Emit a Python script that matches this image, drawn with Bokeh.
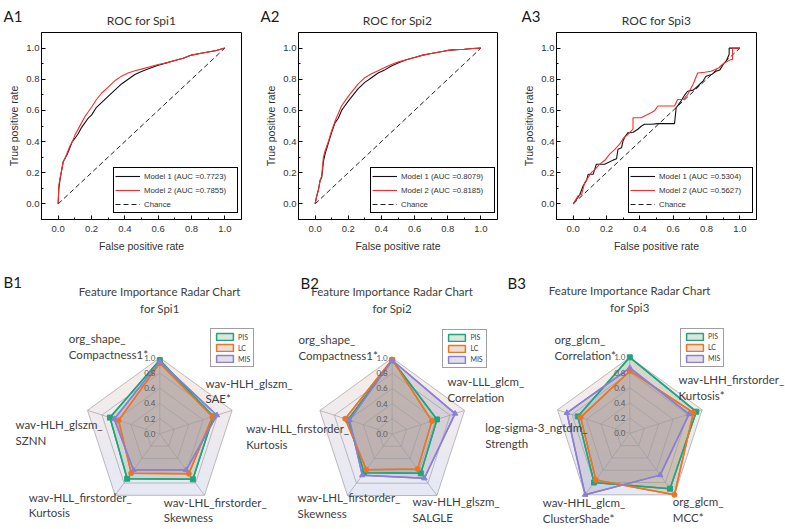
import math
from bokeh.plotting import figure
from bokeh.models import Range1d, FixedTicker, Label, Legend, LegendItem, NumeralTickFormatter
from bokeh.layouts import row, column
from bokeh.embed import file_html
from bokeh.resources import INLINE
from bokeh.core.properties import value

# ---------------- ROC data ----------------
roc_titles = ["ROC for Spi1", "ROC for Spi2", "ROC for Spi3"]
roc_letters = ["A1", "A2", "A3"]
m1_auc = ["0.7723", "0.8079", "0.5304"]
m2_auc = ["0.7855", "0.8185", "0.5627"]
chance = [0.0, 1.0]
roc_ticks = [0.0, 0.2, 0.4, 0.6, 0.8, 1.0]
roc_minor = [0.1, 0.3, 0.5, 0.7, 0.9]

spi1_fpr = [0, 0.004, 0.012, 0.02, 0.03, 0.04, 0.055, 0.07, 0.085, 0.1, 0.12, 0.14, 0.16, 0.18, 0.2,
            0.23, 0.26, 0.3, 0.34, 0.38, 0.42, 0.46, 0.5, 0.55, 0.6, 0.65, 0.7, 0.75, 0.8, 0.85, 0.9, 0.95, 1.0]
spi1_m1 = [0, 0.10, 0.16, 0.21, 0.27, 0.29, 0.32, 0.36, 0.40, 0.42, 0.45, 0.49, 0.52, 0.55, 0.57,
           0.62, 0.65, 0.69, 0.73, 0.77, 0.80, 0.83, 0.85, 0.87, 0.89, 0.905, 0.92, 0.935, 0.955, 0.965, 0.975, 0.985, 1.0]
spi1_m2 = [0, 0.12, 0.17, 0.21, 0.27, 0.29, 0.33, 0.37, 0.40, 0.44, 0.48, 0.52, 0.56, 0.59, 0.62,
           0.67, 0.71, 0.75, 0.79, 0.82, 0.84, 0.855, 0.865, 0.88, 0.895, 0.905, 0.92, 0.935, 0.955, 0.965, 0.975, 0.985, 1.0]

spi2_fpr = [0, 0.01, 0.02, 0.03, 0.04, 0.05, 0.06, 0.08, 0.1, 0.12, 0.14, 0.16, 0.18, 0.2, 0.23, 0.26,
            0.3, 0.34, 0.38, 0.42, 0.46, 0.5, 0.55, 0.6, 0.65, 0.7, 0.75, 0.8, 0.85, 0.9, 0.95, 1.0]
spi2_m1 = [0, 0.05, 0.09, 0.15, 0.17, 0.27, 0.32, 0.39, 0.46, 0.52, 0.55, 0.60, 0.63, 0.66, 0.70, 0.74,
           0.78, 0.81, 0.84, 0.86, 0.885, 0.905, 0.925, 0.94, 0.955, 0.965, 0.975, 0.985, 0.99, 0.993, 0.997, 1.0]
spi2_m2 = [0, 0.05, 0.09, 0.15, 0.18, 0.30, 0.34, 0.40, 0.47, 0.53, 0.58, 0.63, 0.66, 0.69, 0.73, 0.77,
           0.81, 0.835, 0.855, 0.875, 0.895, 0.91, 0.925, 0.94, 0.955, 0.965, 0.975, 0.985, 0.99, 0.993, 0.997, 1.0]

spi3_m1_fpr = [0, 0.03, 0.04, 0.06, 0.08, 0.09, 0.12, 0.139, 0.189, 0.22, 0.239, 0.26, 0.269, 0.29, 0.299,
               0.31, 0.329, 0.36, 0.388, 0.41, 0.428, 0.47, 0.508, 0.608, 0.618, 0.647, 0.67, 0.687, 0.72,
               0.747, 0.78, 0.797, 0.83, 0.857, 0.88, 0.906, 0.92, 0.936, 0.936, 1.0]
spi3_m1 = [0, 0.043, 0.06, 0.117, 0.15, 0.19, 0.19, 0.255, 0.255, 0.27, 0.281, 0.29, 0.351, 0.36, 0.404,
           0.43, 0.457, 0.46, 0.479, 0.50, 0.511, 0.511, 0.515, 0.515, 0.617, 0.66, 0.70, 0.723, 0.73,
           0.755, 0.79, 0.819, 0.83, 0.851, 0.86, 0.904, 0.92, 0.96, 1.0, 1.0]
spi3_m2_fpr = [0, 0.03, 0.05, 0.07, 0.09, 0.11, 0.13, 0.159, 0.19, 0.219, 0.25, 0.279, 0.30, 0.329, 0.359,
               0.359, 0.408, 0.44, 0.468, 0.49, 0.508, 0.608, 0.627, 0.66, 0.687, 0.72, 0.747, 0.79, 0.827,
               0.87, 0.906, 0.946, 0.956, 0.956, 1.0]
spi3_m2 = [0, 0.053, 0.06, 0.138, 0.17, 0.202, 0.22, 0.255, 0.28, 0.319, 0.35, 0.383, 0.42, 0.447, 0.48,
           0.553, 0.553, 0.57, 0.585, 0.60, 0.628, 0.628, 0.67, 0.67, 0.702, 0.77, 0.84, 0.845, 0.851,
           0.87, 0.904, 0.926, 0.926, 1.0, 1.0]

# ---------------- Radar data ----------------
radar_titles = ["Feature Importance Radar Chart\nfor Spi1", "Feature Importance Radar Chart\nfor Spi2",
                "Feature Importance Radar Chart\nfor Spi3"]
radar_letters = ["B1", "B2", "B3"]
series_names = ["PIS", "LC", "MIS"]
radar_ticks = [0.0, 0.2, 0.4, 0.6, 0.8, 1.0]

b1_axes = ["org_shape_\nCompactness1*", "wav-HLH_glszm_\nSAE*", "wav-LHL_firstorder_\nSkewness",
           "wav-HLL_firstorder_\nKurtosis", "wav-HLH_glszm_\nSZNN"]
b1_pis = [0.97, 0.74, 0.74, 0.73, 0.69]
b1_lc = [0.93, 0.73, 0.65, 0.64, 0.57]
b1_mis = [0.95, 0.79, 0.59, 0.59, 0.63]

b2_axes = ["org_shape_\nCompactness1*", "wav-LLL_glcm_\nCorrelation", "wav-HLH_glszm_\nSALGLE",
           "wav-LHL_firstorder_\nSkewness", "wav-HLL_firstorder_\nKurtosis"]
b2_pis = [0.97, 0.62, 0.64, 0.63, 0.61]
b2_lc = [0.98, 0.55, 0.57, 0.58, 0.65]
b2_mis = [0.97, 0.87, 0.72, 0.67, 0.59]

b3_axes = ["org_glcm_\nCorrelation*", "wav-LHH_firstorder_\nKurtosis*", "org_glcm_\nMCC*",
           "wav-HHL_glcm_\nClusterShade*", "log-sigma-3_ngtdm_\nStrength"]
b3_pis = [1.0, 0.92, 0.90, 0.80, 0.72]
b3_lc = [0.82, 0.88, 1.0, 0.76, 0.68]
b3_mis = [0.86, 0.82, 0.68, 1.0, 0.87]

# ---------------- styles / layout ----------------
AX_FONT = "Liberation Sans"
TXT_FONT = "Lato"
PAGE_W = 785
HEAD_H = 31
FRAME_W, FRAME_H = 200, 187
ROC_H = 270 - HEAD_H
roc_widths = [262, 258, 265]
roc_left = [41, 35, 36]
roc_x0 = [0, 262, 520]
letter_real_x = [3, 260, 521]

# header strip carrying the panel letters and ROC titles
head = figure(width=PAGE_W, height=HEAD_H, x_range=Range1d(0, PAGE_W), y_range=Range1d(0, HEAD_H),
              x_axis_type=None, y_axis_type=None, output_backend="svg", toolbar_location=None,
              min_border=0)
head.outline_line_color = None
head.text(x=[roc_x0[i] + roc_left[i] + FRAME_W / 2 for i in range(3)], y=[HEAD_H - 20] * 3,
          text=roc_titles, text_align="center", text_baseline="middle",
          text_font=value(TXT_FONT), text_font_size="12px", text_color="#333333")
head.text(x=letter_real_x, y=[HEAD_H - 15] * 3, text=roc_letters, text_align="left",
          text_baseline="middle", text_font=value(TXT_FONT), text_font_size="15px", text_color="#1a1a1a")


def make_roc(i, f1, t1, f2, t2):
    p = figure(width=roc_widths[i], height=ROC_H, x_range=Range1d(-0.1, 1.1), y_range=Range1d(-0.1, 1.1),
               output_backend="svg", toolbar_location=None,
               min_border_left=roc_left[i], min_border_right=roc_widths[i] - roc_left[i] - FRAME_W,
               min_border_top=1, min_border_bottom=ROC_H - 1 - FRAME_H,
               x_axis_label="False positive rate", y_axis_label="True positive rate")
    p.xgrid.visible = False
    p.ygrid.visible = False
    p.outline_line_color = "black"
    p.outline_line_alpha = 1.0
    for ax in (p.xaxis[0], p.yaxis[0]):
        ax.ticker = FixedTicker(ticks=roc_ticks, minor_ticks=roc_minor)
        ax.formatter = NumeralTickFormatter(format="0.0")
        ax.major_tick_in = 4
        ax.major_tick_out = 0
        ax.minor_tick_in = 2
        ax.minor_tick_out = 0
        ax.axis_line_color = "black"
        ax.major_tick_line_color = "black"
        ax.minor_tick_line_color = "black"
        ax.major_label_text_font = AX_FONT
        ax.major_label_text_font_size = "9.5px"
        ax.major_label_text_color = "#333333"
        ax.axis_label_text_font = AX_FONT
        ax.axis_label_text_font_size = "10.5px"
        ax.axis_label_text_font_style = "normal"
        ax.axis_label_text_color = "#333333"
    p.xaxis.major_label_standoff = 6
    p.yaxis.major_label_standoff = 2
    p.xaxis.axis_label_standoff = 5
    p.yaxis.axis_label_standoff = 3

    rc = p.line(chance, chance, line_color="#222222", line_width=1, line_dash="5 3")
    r1 = p.line(f1, t1, line_color="#111111", line_width=1.1)
    r2 = p.line(f2, t2, line_color="#ff2a2a", line_width=1.1)

    leg = Legend(items=[LegendItem(label=f"Model 1 (AUC ={m1_auc[i]})", renderers=[r1]),
                        LegendItem(label=f"Model 2 (AUC ={m2_auc[i]})", renderers=[r2]),
                        LegendItem(label="Chance", renderers=[rc])],
                 location=(72, 6), margin=0, padding=1, spacing=0,
                 glyph_width=25, glyph_height=14, label_height=14, label_width=92, label_standoff=4,
                 border_line_color="black", border_line_width=1, border_line_alpha=1,
                 label_text_font=AX_FONT, label_text_font_size="7.8px", label_text_color="#333333",
                 background_fill_color="white", background_fill_alpha=1)
    p.add_layout(leg)
    return p


p1 = make_roc(0, spi1_fpr, spi1_m1, spi1_fpr, spi1_m2)
p2 = make_roc(1, spi2_fpr, spi2_m1, spi2_fpr, spi2_m2)
p3 = make_roc(2, spi3_m1_fpr, spi3_m1, spi3_m2_fpr, spi3_m2)

# ---------------- Radar figure ----------------
R = 76.0
RW, RH = PAGE_W, 259
rad = figure(width=RW, height=RH, x_range=Range1d(0, RW / R), y_range=Range1d(0, RH / R),
             x_axis_type=None, y_axis_type=None, output_backend="svg", toolbar_location=None,
             min_border=0)
rad.outline_line_color = None

centers_px = [(159.3, 95.7), (391.7, 95.5), (629.3, 96.2)]
angles = [math.radians(90 - 72 * k) for k in range(5)]
ser_line = ["#1fa57c", "#ed7424", "#8a7fd6"]
ser_fill = ["#8fa890", "#c48e6e", "#a096b0"]
ser_marker = ["square", "circle", "triangle"]
label_offsets = [
    [(-91, 95.3), (45.7, 50.6), (4, -68.4), (-131, -63.4), (-144.3, 9.3)],
    [(-93.7, 94.7), (55.3, 52.3), (20.3, -67.7), (-94.7, -63.7), (-146, 5.7)],
    [(-75.3, 94.0), (48.7, 54.0), (43, -68.4), (-87, -69.4), (-144.6, 5.6)],
]
LINE_GAP = 15.7
top_col = (247, 236, 231)
bot_col = (229, 232, 245)


def pent(cx, cy, vals):
    xs = [cx + v * math.cos(a) for v, a in zip(vals, angles)]
    ys = [cy + v * math.sin(a) for v, a in zip(vals, angles)]
    return xs, ys


def clip(pts, inside, inter):
    out = []
    for k in range(len(pts)):
        cur, prev = pts[k], pts[k - 1]
        if inside(cur):
            if not inside(prev):
                out.append(inter(prev, cur))
            out.append(cur)
        elif inside(prev):
            out.append(inter(prev, cur))
    return out


def iy(yc):
    return lambda a, b: (a[0] + (b[0] - a[0]) * (yc - a[1]) / (b[1] - a[1]), yc)


radar_data = [(b1_axes, [b1_pis, b1_lc, b1_mis]), (b2_axes, [b2_pis, b2_lc, b2_mis]),
              (b3_axes, [b3_pis, b3_lc, b3_mis])]

for idx, (axes_names, series) in enumerate(radar_data):
    cx, cy = centers_px[idx][0] / R, centers_px[idx][1] / R
    # background gradient inside outer ring
    ox, oy = pent(cx, cy, [radar_ticks[-1]] * 5)
    pts = list(zip(ox, oy))
    nb = 18
    y_lo, y_hi = cy - 0.82, cy + 1.0
    for b in range(nb):
        y0 = y_lo + (y_hi - y_lo) * b / nb
        y1 = y_lo + (y_hi - y_lo) * (b + 1) / nb
        if b == 0:
            y0 = cy - 2
        if b == nb - 1:
            y1 = cy + 2
        q = clip(pts, lambda p_, y0=y0: p_[1] >= y0, iy(y0))
        if q:
            q = clip(q, lambda p_, y1=y1: p_[1] <= y1, iy(y1))
        if len(q) < 3:
            continue
        t = (b + 0.5) / nb
        col = tuple(int(round(bot_col[c] + (top_col[c] - bot_col[c]) * t)) for c in range(3))
        hexc = "#%02x%02x%02x" % col
        rad.patch([a for a, _ in q], [b_ for _, b_ in q], fill_color=hexc, line_color=hexc, line_width=0.6)

    # series fills
    patch_rs = []
    for s, vals in enumerate(series):
        xs, ys = pent(cx, cy, vals)
        pr = rad.patch(xs, ys, fill_color=ser_fill[s], fill_alpha=0.3, line_color=ser_line[s], line_width=1.5)
        patch_rs.append(pr)

    # grid
    for tv in radar_ticks[1:]:
        gx, gy = pent(cx, cy, [tv] * 5)
        rad.patch(gx, gy, fill_color=None, line_color="#9a9a9a", line_width=0.7, line_alpha=0.9)
    sx = [[cx, x] for x in ox]
    sy = [[cy, y] for y in oy]
    rad.multi_line(sx, sy, line_color="#9a9a9a", line_width=0.7, line_alpha=0.9)

    # series lines + markers
    for s, vals in enumerate(series):
        xs, ys = pent(cx, cy, vals)
        rad.line(xs + xs[:1], ys + ys[:1], line_color=ser_line[s], line_width=1.5)
        rad.scatter(xs, ys, marker=ser_marker[s], size=5 if s != 2 else 5.5,
                    fill_color=ser_line[s], line_color=ser_line[s])

    # tick labels
    rad.text(x=[cx - 4.5 / R] * len(radar_ticks), y=[cy + tv for tv in radar_ticks],
             text=["%.1f" % tv for tv in radar_ticks], text_align="right", text_baseline="middle",
             text_font=value(TXT_FONT), text_font_size="8px", text_color="#595959")

    # axis labels
    tx, ty, tt = [], [], []
    for k, name in enumerate(axes_names):
        dx, dy = label_offsets[idx][k]
        for li, line in enumerate(name.split("\n")):
            tx.append(cx + dx / R)
            ty.append(cy + (dy - li * LINE_GAP) / R)
            tt.append(line)
    rad.text(x=tx, y=ty, text=tt, text_align="left", text_baseline="middle",
             text_font=value(TXT_FONT), text_font_size="11.5px", text_color="#404040")

    # title
    tl = radar_titles[idx].split("\n")
    rad.text(x=[cx, cx], y=[cy + 142.5 / R, cy + 125.8 / R], text=tl, text_align="center",
             text_baseline="middle", text_font=value(TXT_FONT), text_font_size="11.5px",
             text_color="#404040")

    # legend
    lx = centers_px[idx][0] + 50.7
    ly = centers_px[idx][1] + 66.0
    leg = Legend(items=[LegendItem(label=series_names[s], renderers=[patch_rs[s]]) for s in range(3)],
                 location=(lx, ly), margin=0, padding=3, spacing=2,
                 glyph_width=21, glyph_height=9, label_height=9, label_width=11, label_standoff=3,
                 border_line_color="#404040", border_line_width=1.5,
                 label_text_font=TXT_FONT, label_text_font_size="7px", label_text_color="#404040",
                 background_fill_color="white", background_fill_alpha=1)
    rad.add_layout(leg)

letter_pos = [(3, 529 - 281), (300, 529 - 282), (507, 529 - 282)]
for k in range(3):
    rad.add_layout(Label(x=letter_pos[k][0] / R, y=letter_pos[k][1] / R, text=radar_letters[k],
                         text_align="left", text_baseline="middle", text_font=TXT_FONT,
                         text_font_size="15px", text_color="#1a1a1a"))

layout = column(head, row(p1, p2, p3), rad)
open("out.html", "w").write(file_html(layout, INLINE))
